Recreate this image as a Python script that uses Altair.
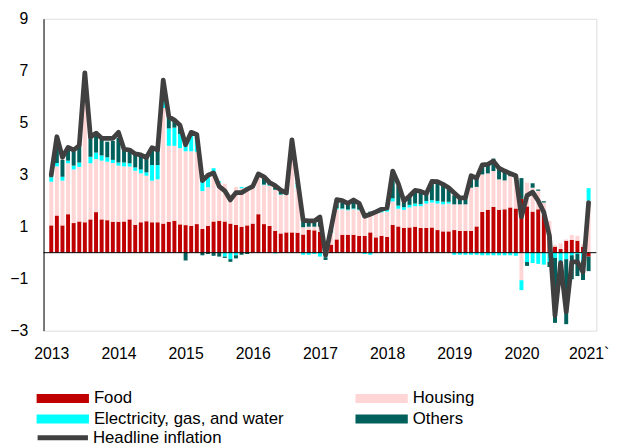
import altair as alt
import pandas as pd

# ---- data ----
months = [f"{y}-{m:02d}" for y in range(2013, 2021) for m in range(1, 13)] + ["2021-01"]
year_labels = ["2013", "2014", "2015", "2016", "2017", "2018", "2019", "2020", "2021`"]

food = [1.05, 1.43, 1.05, 1.48, 1.14, 1.20, 1.17, 1.28, 1.56, 1.28, 1.25, 1.19,
        1.19, 1.20, 1.28, 1.07, 1.17, 1.21, 1.17, 1.17, 1.12, 1.19, 1.23, 1.09,
        1.06, 1.03, 1.10, 0.91, 1.03, 1.20, 1.23, 1.20, 1.12, 1.07, 1.00, 1.05,
        1.12, 1.48, 1.10, 1.03, 0.84, 0.74, 0.78, 0.78, 0.77, 0.70, 0.88, 0.86,
        0.80, 0.08, 0.31, 0.51, 0.69, 0.69, 0.69, 0.65, 0.65, 0.78, 0.59, 0.65,
        0.61, 1.07, 1.01, 0.95, 0.97, 1.00, 0.95, 0.95, 0.97, 0.87, 0.82, 0.82,
        0.87, 0.84, 0.84, 0.84, 1.01, 1.57, 1.65, 1.76, 1.65, 1.67, 1.74, 1.70,
        2.07, 1.78, 1.58, 1.67, 1.46, 0.60, 0.23, 0.14, 0.46, 0.49, 0.46, 0.23,
        -0.15]

housing = [1.68, 1.89, 1.72, 1.96, 2.06, 2.10, 5.00, 2.16, 2.04, 2.26, 2.25, 2.26,
           2.16, 2.12, 2.03, 2.08, 1.88, 1.75, 1.60, 1.65, 4.45, 2.92, 2.88, 2.93,
           2.84, 2.87, 2.78, 1.46, 1.49, 1.75, 1.47, 1.45, 1.13, 1.46, 1.48, 1.43,
           1.38, 1.43, 1.50, 1.54, 1.58, 1.48, 1.44, 3.47, 1.73, 0.28, 0.12, 0.14,
           0.20, 0.00, 0.45, 1.16, 0.98, 0.94, 0.98, 0.98, 0.70, 0.70, 0.96, 0.90,
           0.97, 0.90, 0.68, 0.70, 0.77, 0.79, 0.84, 0.94, 0.96, 1.02, 1.04, 1.07,
           0.99, 1.02, 1.02, 1.66, 1.52, 1.44, 1.40, 1.38, 1.17, 1.11, 1.20, 1.15,
           -1.06, 0.91, 0.92, 0.71, 0.47, 0.62, 0.07, 0.22, 0.05, 0.19, 0.19, 0.10,
           2.00]

electricity = [0.17, 0.13, 0.15, 0.10, 0.15, 0.17, 0.20, 0.25, 0.25, 0.20, 0.17, 0.12,
               0.12, 0.15, 0.13, 0.13, 0.15, 0.13, 0.60, 0.55, 0.40, 0.67, 0.70, 0.55,
               0.35, 0.60, 0.55, 0.40, 0.40, 0.30, 0.05, -0.15, -0.25, -0.10, 0.05, 0.05,
               0.05, 0.02, 0.02, 0.02, -0.03, 0.02, 0.02, 0.02, 0.15, -0.08, -0.08, -0.05,
               -0.15, -0.18, 0.02, 0.05, 0.03, 0.03, 0.03, 0.03, -0.05, -0.08, 0.03, 0.08,
               0.08, 0.12, 0.12, 0.10, 0.10, 0.10, 0.08, 0.10, 0.09, 0.10, 0.10, 0.07,
               -0.08, -0.08, -0.08, -0.08, -0.08, -0.10, -0.10, -0.10, -0.10, -0.10, -0.10, -0.12,
               -0.38, -0.36, -0.40, -0.43, -0.46, -0.35, -0.20, -0.45, -0.25, -0.10, -0.05, -0.30,
               0.48]

others = [0.10, 1.00, 0.65, 0.45, 0.55, 0.60, 0.50, 0.75, 0.72, 0.60, 0.60, 0.73,
          0.95, 0.50, 0.50, 0.50, 0.55, 0.55, 0.65, 0.55, 0.55, 0.42, 0.30, 0.30,
          -0.30, 0.12, 0.10, -0.10, -0.05, -0.12, -0.15, -0.05, -0.10, -0.12, -0.08, -0.05,
          0.05, 0.05, 0.25, 0.10, 0.12, 0.12, 0.05, 0.05, 0.05, 0.20, 0.20, 0.24,
          0.42, -0.10, 0.15, 0.22, 0.22, 0.18, 0.28, 0.20, 0.18, 0.10, 0.06, 0.05,
          0.05, 1.00, 0.75, 0.25, 0.32, 0.50, 0.48, 0.30, 0.70, 0.72, 0.64, 0.55,
          0.35, 0.25, 0.30, 0.50, 0.36, 0.40, 0.38, 0.48, 0.38, 0.34, 0.10, 0.15,
          0.80, -0.15, 0.17, 0.05, 0.05, -0.20, -2.50, -0.30, -2.50, -0.92, -0.85, -0.75,
          -0.56]

headline = [3.00, 4.46, 3.67, 4.05, 3.95, 4.12, 6.92, 4.45, 4.60, 4.40, 4.40, 4.40,
            4.63, 3.98, 3.95, 3.80, 3.76, 3.66, 4.04, 3.95, 6.64, 5.23, 5.10, 4.90,
            4.15, 4.63, 4.55, 2.77, 2.98, 3.07, 2.55, 2.38, 2.03, 2.31, 2.31, 2.44,
            2.55, 3.03, 2.92, 2.70, 2.58, 2.41, 2.30, 4.34, 2.80, 1.24, 1.22, 1.22,
            1.37, -0.10, 0.95, 2.04, 2.00, 1.90, 2.03, 1.90, 1.40, 1.48, 1.57, 1.67,
            1.72, 3.14, 2.65, 1.99, 2.18, 2.40, 2.36, 2.27, 2.74, 2.73, 2.63, 2.50,
            2.30, 2.10, 2.12, 2.96, 2.87, 3.38, 3.40, 3.52, 3.25, 3.14, 3.05, 2.96,
            1.38, 2.20, 2.33, 2.00, 1.55, 0.65, -2.42, -0.38, -2.28, -0.35, -0.35, -0.75,
            1.93]

series_names = ["Food", "Housing", "Electricity, gas, and water", "Others"]
series_colors = ["#C00000", "#FFD5D5", "#00FFFF", "#00615C"]
line_name = "Headline inflation"
line_color = "#404040"

# ---- tables ----
rows = []
for i, m in enumerate(months):
    for k, (name, vals) in enumerate(zip(series_names, [food, housing, electricity, others])):
        rows.append({"idx": i, "month": m, "series": name, "order": k, "value": vals[i]})
df_bars = pd.DataFrame(rows)
df_line = pd.DataFrame({"idx": list(range(len(months))), "month": months,
                        "headline": headline, "label": line_name})
df_zero = pd.DataFrame({"zero": [0]})

n = len(months)
label_array = "[" + ",".join(f"'{s}'" for s in year_labels) + "]"
x_scale = alt.Scale(domain=[-0.5, n - 0.5], nice=False, zero=False)
y_scale = alt.Scale(domain=[-3, 9], nice=False)
FONT = "Liberation Sans"

x_axis = alt.Axis(values=list(range(0, n, 12)), labelExpr=f"{label_array}[datum.value / 12]",
                  title=None, domain=False, ticks=False, tickSize=0, grid=False,
                  labelPadding=15, labelFontSize=16, labelColor="black", labelFont=FONT)
y_axis = alt.Axis(values=[-3, -1, 1, 3, 5, 7, 9], title=None, grid=False, ticks=False, tickSize=0,
                  domainColor="black", domainWidth=1, labelPadding=16, labelFontSize=16,
                  labelColor="black", labelFont=FONT)

# wide swatches drawn as custom symbol paths (unit scale = 5 px with symbolSize 100)
swatch_rect = "M-5.3,-0.9H5.3V0.9H-5.3Z"
swatch_line = "M-5.1,0H5.1"

bars = alt.Chart(df_bars).mark_bar(size=4).encode(
    x=alt.X("idx:Q", scale=x_scale, axis=x_axis),
    y=alt.Y("value:Q", stack="zero", scale=y_scale, axis=y_axis),
    color=alt.Color("series:N", scale=alt.Scale(domain=series_names, range=series_colors),
                    legend=alt.Legend(orient="none", legendX=11, legendY=376, columns=2,
                                      direction="horizontal",
                                      title=None, symbolType=swatch_rect,
                                      symbolSize=100, symbolStrokeWidth=0, symbolOpacity=1,
                                      labelFontSize=17, labelFont=FONT, labelColor="black",
                                      labelOffset=23, columnPadding=72, rowPadding=3,
                                      labelLimit=400)),
    order=alt.Order("order:Q", sort="ascending"),
)

zero_rule = alt.Chart(df_zero).mark_rule(color="black", strokeWidth=1).encode(
    y=alt.Y("zero:Q", scale=y_scale, axis=y_axis)
)

line = alt.Chart(df_line).mark_line(strokeWidth=4.8, strokeCap="round", strokeJoin="round").encode(
    x=alt.X("idx:Q", scale=x_scale, axis=x_axis),
    y=alt.Y("headline:Q", scale=y_scale, axis=y_axis),
    stroke=alt.Stroke("label:N", scale=alt.Scale(domain=[line_name], range=[line_color]),
                      legend=alt.Legend(orient="none", legendX=11, legendY=416, title=None,
                                        symbolType=swatch_line, symbolSize=100,
                                        symbolStrokeWidth=5, labelFontSize=17, labelFont=FONT,
                                        labelColor="black", labelOffset=22)),
)

chart = alt.layer(bars, zero_rule, line).properties(
    width=560, height=316,
    autosize=alt.AutoSizeParams(type="none"),
    padding={"left": 36, "top": 8, "right": 26, "bottom": 116},
).configure_view(stroke=None).configure(font=FONT)

chart.save("out.html", embed_options={"renderer": "svg", "actions": False})
